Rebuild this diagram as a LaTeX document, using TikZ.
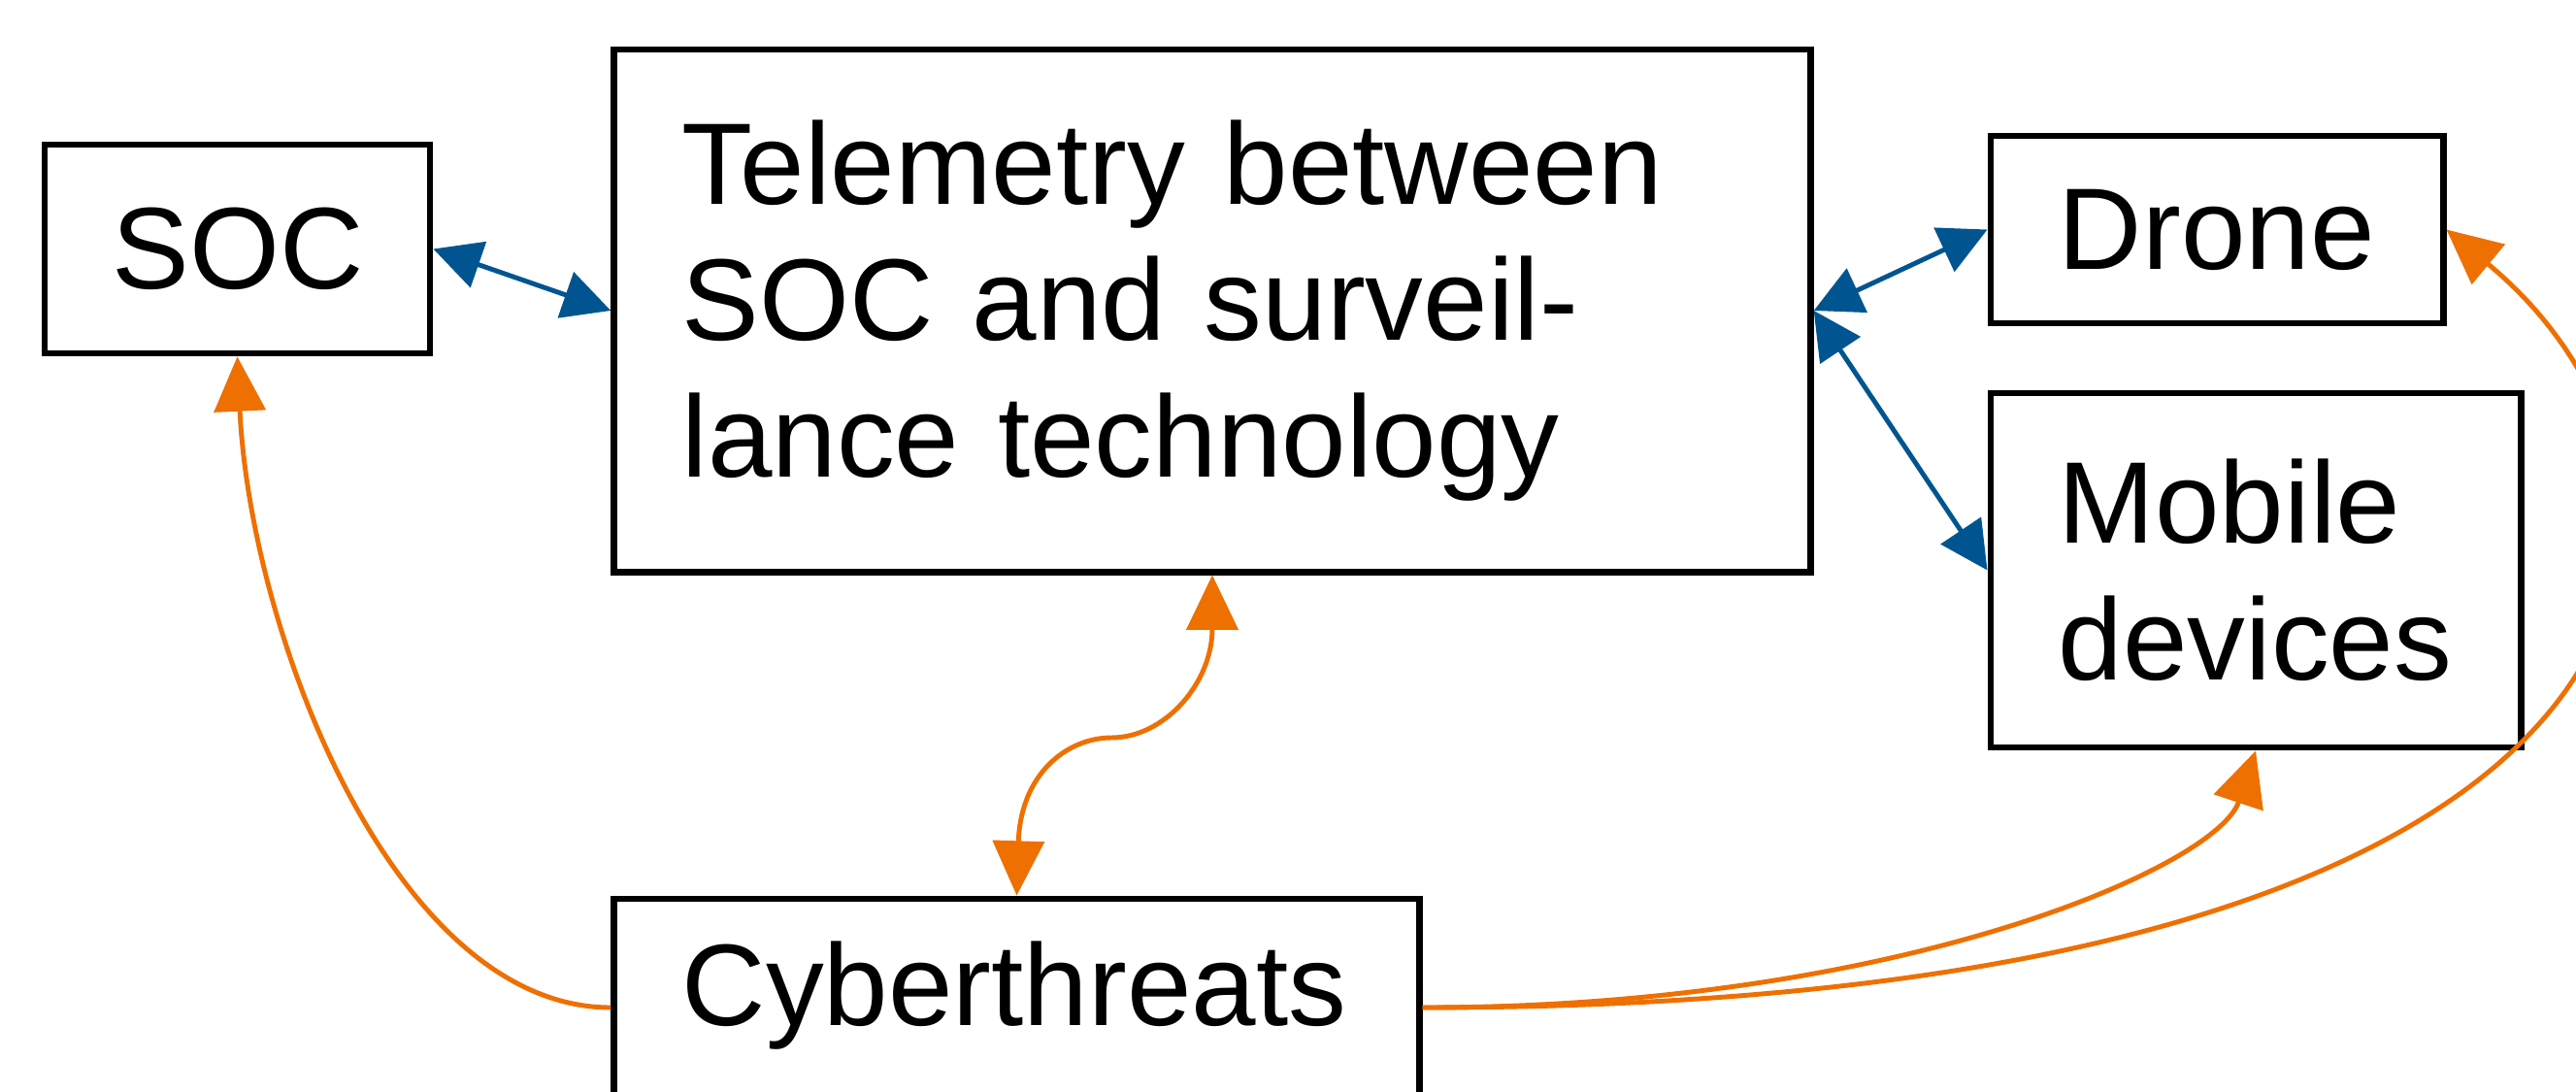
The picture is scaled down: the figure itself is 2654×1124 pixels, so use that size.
\documentclass[tikz,border=0pt]{standalone}
\usepackage{fontspec}
\setmainfont{Liberation Sans}
\usetikzlibrary{arrows.meta}
\definecolor{ablue}{RGB}{0,85,145}
\definecolor{aorange}{RGB}{238,112,0}
\begin{document}
\begin{tikzpicture}[x={(0.01cm,0)},y={(0,-0.01cm)},
  box/.style={draw=black,line width=1.9pt,rectangle,inner ysep=0pt,inner xsep=0.7cm,
    align=left,font=\fontsize{34}{40}\selectfont,
    execute at begin node={\hyphenpenalty=10000 }},
  barrow/.style={draw=ablue,line width=1.4pt,{Triangle[length=14pt,width=14pt]}-{Triangle[length=14pt,width=14pt]}},
  oarrow/.style={draw=aorange,line width=1.4pt,-{Triangle[length=16pt,width=15pt]}},
  oarrows/.style={draw=aorange,line width=1.4pt,{Triangle[length=16pt,width=15pt]}-{Triangle[length=16pt,width=15pt]}}]
\useasboundingbox (0,0) rectangle (2654,1124);
\clip (0,0) rectangle (2654,1124);
\node[box,minimum width=3.97cm,minimum height=2.15cm,text width=2.57cm] (soc) at (244.5,256.5) {SOC};
\node[box,minimum width=12.32cm,minimum height=5.38cm,text width=10.92cm] (main) at (1249,320) {Telemetry between\\SOC and surveil-\\lance technology};
\node[box,minimum width=4.66cm,minimum height=1.93cm,text width=3.26cm] (drone) at (2284,236.5) {Drone};
\node[box,minimum width=5.46cm,minimum height=3.65cm,text width=4.06cm] (mobile) at (2324,587.5) {Mobile\\devices};
\node[box,minimum width=8.29cm,minimum height=2.24cm,text width=6.89cm,text depth=14pt] (cyber) at (1047.5,1038) {Cyberthreats};
\coordinate (kink) at (1145,760);
\draw[barrow] (soc.east) -- (main.west);
\draw[barrow] (main.east) -- (drone.west);
\draw[barrow] (main.east) -- (mobile.west);
\draw[oarrow] (cyber.west) .. controls +(-223,0) and +(13.5,286) .. (soc.south);
\draw[oarrows] (main.south) .. controls +(0,111) and +(55,0) .. (kink) .. controls +(-45,0) and +(4,-126) .. (cyber.north);
\draw[oarrow] (cyber.east) .. controls +(488,0) and +(-40,120) .. (mobile.south);
\draw[oarrow] (cyber.east) .. controls +(1338,0) and +(320,265) .. (drone.east);
\end{tikzpicture}
\end{document}
